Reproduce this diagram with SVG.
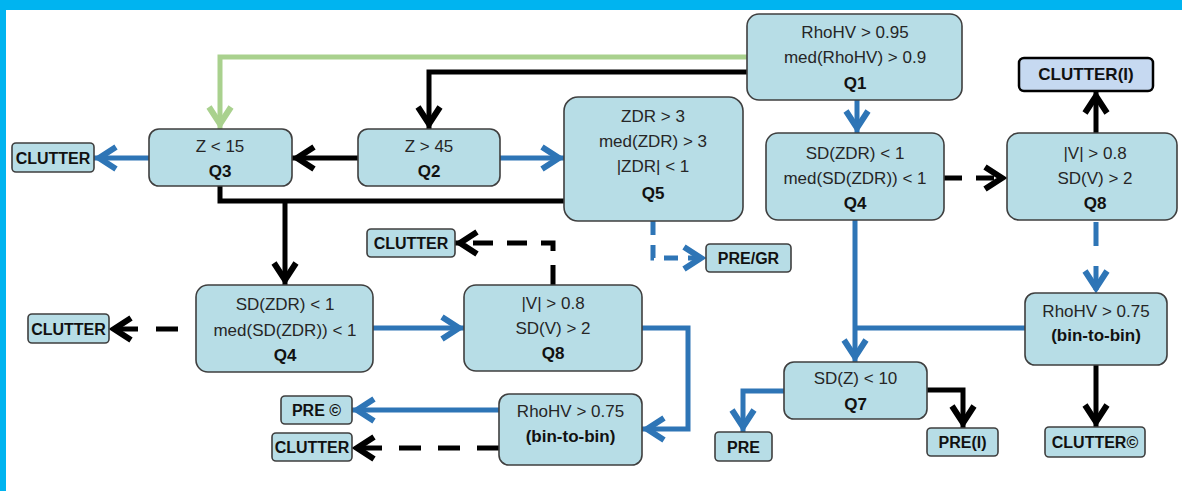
<svg xmlns="http://www.w3.org/2000/svg" width="1182" height="491" viewBox="0 0 1182 491">
<style>
.n{fill:#b7dde6;stroke:#3f3f3f;stroke-width:1.6}
.t{font-family:"Liberation Sans",Arial,sans-serif;font-size:17px;fill:#262626;text-anchor:middle}
.q{font-family:"Liberation Sans",Arial,sans-serif;font-size:17px;font-weight:bold;fill:#111;text-anchor:middle}
.l{font-family:"Liberation Sans",Arial,sans-serif;font-size:16px;font-weight:bold;fill:#111;text-anchor:middle}
.b{fill:none;stroke:#2e75b6;stroke-width:5}
.k{fill:none;stroke:#000;stroke-width:5}
.g{fill:none;stroke:#a9d18e;stroke-width:5}
</style>
<defs>
<marker id="mb" viewBox="0 0 30 28" refX="26" refY="14" markerWidth="30" markerHeight="28" orient="auto" markerUnits="userSpaceOnUse"><path d="M4,3 L21,14 L4,25" fill="none" stroke="#2e75b6" stroke-width="6"/></marker>
<marker id="mk" viewBox="0 0 30 28" refX="26" refY="14" markerWidth="30" markerHeight="28" orient="auto" markerUnits="userSpaceOnUse"><path d="M4,3 L21,14 L4,25" fill="none" stroke="#000" stroke-width="6"/></marker>
<marker id="mg" viewBox="0 0 30 28" refX="26" refY="14" markerWidth="30" markerHeight="28" orient="auto" markerUnits="userSpaceOnUse"><path d="M4,3 L21,14 L4,25" fill="none" stroke="#a9d18e" stroke-width="6"/></marker>
</defs>
<rect x="0" y="0" width="1182" height="491" fill="#fff"/>
<rect x="0" y="0" width="1182" height="10" fill="#00b4f0"/>
<rect x="0" y="0" width="6" height="491" fill="#00b4f0"/>

<g id="connectors">
<path class="g" d="M747,57 H220 V129" marker-end="url(#mg)"/>
<path class="k" d="M747,72 H429 V129" marker-end="url(#mk)"/>
<path class="b" d="M857,100 V133" marker-end="url(#mb)"/>
<path class="k" d="M358,158 H292" marker-end="url(#mk)"/>
<path class="b" d="M149,158 H94" marker-end="url(#mb)"/>
<path class="b" d="M500,158 H564" marker-end="url(#mb)"/>
<path class="k" d="M220,186 V201 H564"/>
<path class="k" d="M285,201 V285" marker-end="url(#mk)"/>
<path class="b" d="M653,221 V258 H706" stroke-dasharray="14 10" marker-end="url(#mb)"/>
<path class="k" d="M944,178 H1007" stroke-dasharray="18 14" marker-end="url(#mk)"/>
<path class="k" d="M1096,133 V91" marker-end="url(#mk)"/>
<path class="b" d="M1096,222 V293" stroke-dasharray="24 20" marker-end="url(#mb)"/>
<path class="b" d="M855,220 V362" marker-end="url(#mb)"/>
<path class="b" d="M1025,328 H855"/>
<path class="k" d="M1096,365 V427" marker-end="url(#mk)"/>
<path class="b" d="M784,391 H743 V432" marker-end="url(#mb)"/>
<path class="k" d="M927,390 H963 V428" marker-end="url(#mk)"/>
<path class="k" d="M196,329 H109" stroke-dasharray="22 18" stroke-dashoffset="22" marker-end="url(#mk)"/>
<path class="b" d="M373,328 H464" marker-end="url(#mb)"/>
<path class="k" d="M553,285 V243 H455" stroke-dasharray="20 14" marker-end="url(#mk)"/>
<path class="b" d="M642,328 H688 V429 H642" marker-end="url(#mb)"/>
<path class="b" d="M499,410 H352" marker-end="url(#mb)"/>
<path class="k" d="M499,448 H352" stroke-dasharray="22 17" marker-end="url(#mk)"/>
</g>

<g id="Q1"><rect class="n" x="747" y="14" width="215" height="86" rx="12"/>
<text class="t" x="855" y="38">RhoHV &gt; 0.95</text><text class="t" x="855" y="63">med(RhoHV) &gt; 0.9</text><text class="q" x="855" y="89">Q1</text></g>
<g id="Q2"><rect class="n" x="358" y="129" width="142" height="57" rx="10"/>
<text class="t" x="429" y="152">Z &gt; 45</text><text class="q" x="429" y="177">Q2</text></g>
<g id="Q3"><rect class="n" x="149" y="129" width="143" height="57" rx="10"/>
<text class="t" x="220" y="152">Z &lt; 15</text><text class="q" x="220" y="177">Q3</text></g>
<g id="Q5"><rect class="n" x="564" y="97" width="179" height="124" rx="14"/>
<text class="t" x="653" y="122">ZDR &gt; 3</text><text class="t" x="653" y="147">med(ZDR) &gt; 3</text><text class="t" x="653" y="172">|ZDR| &lt; 1</text><text class="q" x="653" y="199">Q5</text></g>
<g id="Q4R"><rect class="n" x="766" y="133" width="178" height="87" rx="12"/>
<text class="t" x="855" y="159">SD(ZDR) &lt; 1</text><text class="t" x="855" y="184">med(SD(ZDR)) &lt; 1</text><text class="q" x="855" y="209">Q4</text></g>
<g id="Q8R"><rect class="n" x="1007" y="133" width="170" height="87" rx="12"/>
<text class="t" x="1095" y="159">|V| &gt; 0.8</text><text class="t" x="1095" y="184">SD(V) &gt; 2</text><text class="q" x="1095" y="209">Q8</text></g>
<g id="CLUTTER_I"><rect x="1019" y="58" width="134" height="33" rx="5" fill="#c6d9f1" stroke="#000" stroke-width="2.5"/>
<text class="q" x="1086" y="80">CLUTTER(I)</text></g>
<g id="CLUTTER_Q3"><rect class="n" x="12" y="143" width="82" height="29" rx="4"/>
<text class="l" x="53" y="164">CLUTTER</text></g>
<g id="Q4L"><rect class="n" x="196" y="285" width="177" height="87" rx="12"/>
<text class="t" x="285" y="310">SD(ZDR) &lt; 1</text><text class="t" x="285" y="336">med(SD(ZDR)) &lt; 1</text><text class="q" x="285" y="361">Q4</text></g>
<g id="CLUTTER_Q4"><rect class="n" x="28" y="314" width="81" height="29" rx="4"/>
<text class="l" x="68.5" y="335">CLUTTER</text></g>
<g id="CLUTTER_Q8"><rect class="n" x="367" y="229" width="88" height="28" rx="4"/>
<text class="l" x="411" y="249">CLUTTER</text></g>
<g id="Q8M"><rect class="n" x="464" y="285" width="178" height="86" rx="12"/>
<text class="t" x="553" y="309">|V| &gt; 0.8</text><text class="t" x="553" y="334">SD(V) &gt; 2</text><text class="q" x="553" y="359">Q8</text></g>
<g id="RhoM"><rect class="n" x="499" y="394" width="143" height="71" rx="10"/>
<text class="t" x="570.5" y="417">RhoHV &gt; 0.75</text><text class="q" x="570.5" y="442">(bin-to-bin)</text></g>
<g id="PRE_C"><rect class="n" x="281" y="396" width="71" height="28" rx="4"/>
<text class="l" x="316.5" y="416">PRE ©</text></g>
<g id="CLUTTER_B"><rect class="n" x="272" y="433" width="80" height="28" rx="4"/>
<text class="l" x="312" y="453">CLUTTER</text></g>
<g id="PRE_GR"><rect class="n" x="706" y="244" width="85" height="28" rx="4"/>
<text class="l" x="748.5" y="264">PRE/GR</text></g>
<g id="RhoR"><rect class="n" x="1025" y="293" width="142" height="72" rx="10"/>
<text class="t" x="1096" y="317">RhoHV &gt; 0.75</text><text class="q" x="1096" y="341">(bin-to-bin)</text></g>
<g id="Q7"><rect class="n" x="784" y="362" width="143" height="57" rx="10"/>
<text class="t" x="855.5" y="384">SD(Z) &lt; 10</text><text class="q" x="855.5" y="410">Q7</text></g>
<g id="PRE"><rect class="n" x="715" y="432" width="57" height="29" rx="4"/>
<text class="l" x="743.5" y="453">PRE</text></g>
<g id="PRE_I"><rect class="n" x="927" y="428" width="71" height="28" rx="4"/>
<text class="l" x="962.5" y="448">PRE(I)</text></g>
<g id="CLUTTER_C"><rect class="n" x="1045" y="427" width="100" height="30" rx="4"/>
<text class="l" x="1095" y="448">CLUTTER©</text></g>
</svg>
